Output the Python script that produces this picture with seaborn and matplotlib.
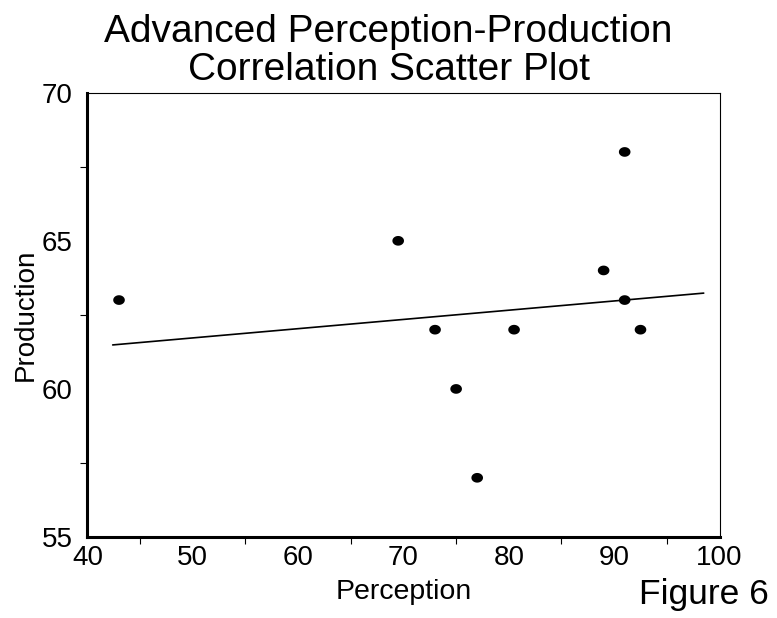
import matplotlib
matplotlib.use("Agg")
import matplotlib.pyplot as plt
from matplotlib.ticker import MultipleLocator
import seaborn as sns
import numpy as np
import pandas as pd

# values
perception = [43.0, 69.5, 73.0, 75.0, 77.0, 80.5, 89.0, 91.0, 91.0, 92.5]
production = [63, 65, 62, 60, 57, 62, 64, 68, 63, 62]
fit_span = [42.4, 98.5]

df = pd.DataFrame({"Perception": perception, "Production": production})

sns.set_style("white")
plt.rcParams["font.family"] = ["Liberation Sans", "DejaVu Sans"]
plt.rcParams.update({"text.color": "black", "axes.labelcolor": "black",
                     "xtick.color": "black", "ytick.color": "black"})

fig = plt.figure(figsize=(7.77, 6.18), dpi=100)
ax = fig.add_axes([0.1125, 0.131, 0.8135, 0.719])

# slightly flattened dot, as in the original
t = np.linspace(0, 2 * np.pi, 40)
dot = list(zip(1.2 * np.cos(t), np.sin(t)))

sns.scatterplot(data=df, x="Perception", y="Production", ax=ax,
                color="black", marker=dot, s=70, edgecolor="none", zorder=3)

# least squares line, drawn over a fixed span like the original
slope, icpt = np.polyfit(df["Perception"], df["Production"], 1)
xs = np.array(fit_span)
sns.lineplot(x=xs, y=icpt + slope * xs, ax=ax, color="black", lw=1.2)

ax.set_xlim(40, 100)
ax.set_ylim(55, 70)
ax.xaxis.set_major_locator(MultipleLocator(10))
ax.xaxis.set_minor_locator(MultipleLocator(10, offset=5))
ax.yaxis.set_major_locator(MultipleLocator(5))
ax.yaxis.set_minor_locator(MultipleLocator(5, offset=2.5))
ax.tick_params(which="major", length=0, labelsize=20)
ax.tick_params(axis="x", which="major", pad=5.5)
ax.tick_params(axis="y", which="major", pad=10.5)
ax.tick_params(which="minor", length=5, width=0.8, color="black",
               bottom=True, left=True)

for side in ["left", "bottom"]:
    ax.spines[side].set_linewidth(2.2)
for side in ["top", "right"]:
    ax.spines[side].set_linewidth(0.8)
for sp in ax.spines.values():
    sp.set_color("black")

ax.set_xlabel("Perception", fontsize=20.5, labelpad=6)
ax.set_ylabel("Production", fontsize=20, labelpad=2)
fig.text(0.5, 0.978, "Advanced Perception-Production\nCorrelation Scatter Plot",
         fontsize=28, ha="center", va="top", linespacing=1.1)
fig.text(0.99, 0.012, "Figure 6", fontsize=25.5, ha="right", va="bottom")

fig.savefig("out.png", dpi=100)
